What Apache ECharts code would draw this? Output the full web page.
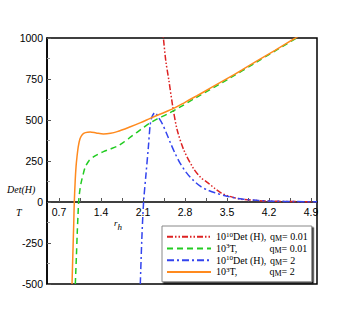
<!DOCTYPE html>
<html>
<head>
<meta charset="utf-8">
<script src="https://cdn.jsdelivr.net/npm/echarts@6/dist/echarts.min.js"></script>
<style>
  html, body { margin: 0; padding: 0; background: #fff; }
  #chart { width: 360px; height: 320px; }
</style>
</head>
<body>
<div id="chart"></div>
<script>
// x ticks (r_h) and y ticks
const xLabels = [0.7, 1.4, 2.1, 2.8, 3.5, 4.2, 4.9]
const xMinorTicks = [1.05, 1.75, 2.45, 3.15, 3.85, 4.55]

// 10^10 Det(H), q_M = 0.01
const redR = [2.42, 2.44, 2.48, 2.53, 2.6, 2.67, 2.78, 2.94, 3.06, 3.17, 3.3, 3.4, 3.5, 3.72, 4.0, 4.17, 4.5, 5.0]
const redV = [1080, 1000, 860, 744, 573, 439, 317, 205, 150, 120, 82, 56, 40, 18, 9, 6, 3, 1]

// 10^3 T, q_M = 0.01
const greenR = [0.972, 0.99, 1.005, 1.018, 1.027, 1.04, 1.055, 1.07, 1.1, 1.14, 1.2, 1.28, 1.36, 1.44, 1.55, 1.67, 1.78, 1.89, 2.0, 2.1, 2.2, 2.33, 2.5, 2.7, 3.0, 3.5, 4.0, 4.66, 5.0]
const greenV = [-500, -330, -180, -70, 0, 50, 90, 120, 165, 215, 252, 276, 293, 307, 322, 340, 365, 395, 425, 452, 478, 505, 535, 575, 640, 745, 855, 1000, 1075]

// 10^10 Det(H), q_M = 2
const blueR = [2.055, 2.08, 2.11, 2.15, 2.19, 2.22, 2.25, 2.3, 2.35, 2.42, 2.5, 2.56, 2.64, 2.72, 2.83, 2.94, 3.06, 3.17, 3.3, 3.5, 3.75, 4.0, 4.3, 4.6, 5.0]
const blueV = [-500, -230, 0, 170, 337, 470, 520, 545, 520, 478, 412, 358, 292, 236, 176, 132, 95, 74, 56, 35, 18, 10, 5, 3, 1]

// 10^3 T, q_M = 2
const orangeR = [0.917, 0.93, 0.945, 0.955, 0.97, 0.985, 1.0, 1.02, 1.05, 1.09, 1.14, 1.22, 1.32, 1.44, 1.56, 1.67, 1.89, 2.06, 2.22, 2.4, 2.61, 2.8, 3.0, 3.25, 3.5, 3.75, 4.0, 4.3, 4.64, 5.0]
const orangeV = [-500, -330, -140, 0, 130, 220, 276, 335, 385, 412, 423, 427, 421, 415, 419, 429, 459, 484, 510, 538, 571, 608, 648, 700, 752, 805, 860, 925, 1000, 1080]

const seriesNames = ['redDet', 'greenT', 'blueDet', 'orangeT']
const legendTexts = [
  '{n|10}{s|10}{a|Det (H), }{q|q}{m|M}{n|= 0.01}',
  '{n|10}{s|3}{b|T,}{q|q}{m|M}{n|= 0.01}',
  '{n|10}{s|10}{a|Det (H), }{q|q}{m|M}{n|= 2}',
  '{n|10}{s|3}{b|T,}{q|q}{m|M}{n|= 2}'
]

const zip = (xs, ys) => xs.map((x, i) => [x, ys[i]])

const serif = '"Liberation Serif", "DejaVu Serif", serif'
const sans = '"Liberation Sans", Arial, sans-serif'

// y = 0 sits 82px above the grid bottom (246px for 1500 units)
const zeroOffset = -82

function lineSeries(name, xs, ys, color, type) {
  return {
    name,
    type: 'line',
    data: zip(xs, ys),
    showSymbol: false,
    symbol: 'none',
    smooth: 0.3,
    clip: true,
    lineStyle: { color, width: 1.5, type },
    itemStyle: { color }
  }
}

const chart = echarts.init(document.getElementById('chart'), null, { renderer: 'svg' })

chart.setOption({
  animation: false,
  backgroundColor: '#fff',
  grid: {
    left: 47, right: 43, top: 38, bottom: 36,
    show: true, borderColor: '#000', borderWidth: 1.5
  },
  xAxis: {
    type: 'value',
    min: 0.5,
    max: 5.0,
    offset: zeroOffset,
    axisLine: { onZero: false, lineStyle: { color: '#000', width: 1.5 } },
    axisTick: {
      inside: true, length: 4,
      customValues: xLabels.concat(xMinorTicks),
      lineStyle: { color: '#555' }
    },
    axisLabel: {
      customValues: xLabels,
      color: '#000', fontFamily: sans, fontSize: 10.5, margin: 4,
      formatter: (v) => v.toFixed(1)
    },
    splitLine: { show: false }
  },
  yAxis: {
    type: 'value',
    min: -500,
    max: 1000,
    interval: 250,
    axisLine: { show: true, onZero: false, lineStyle: { color: '#000', width: 1.5 } },
    axisTick: { inside: true, length: 4, lineStyle: { color: '#555' } },
    minorTick: { show: true, splitNumber: 2, length: 3, lineStyle: { color: '#999' } },
    axisLabel: {
      color: '#000', fontFamily: sans, fontSize: 10.5, margin: 4,
      formatter: (v) => String(v)
    },
    splitLine: { show: false }
  },
  legend: {
    orient: 'vertical',
    left: 162,
    top: 226,
    data: seriesNames,
    itemWidth: 44,
    itemHeight: 8,
    itemGap: 0,
    padding: [5, 4, 4, 4],
    backgroundColor: '#fff',
    borderColor: '#888',
    borderWidth: 1,
    shadowColor: '#000',
    shadowOffsetX: 1.5,
    shadowOffsetY: 1.5,
    itemStyle: { opacity: 0 },
    formatter: (name) => legendTexts[seriesNames.indexOf(name)],
    textStyle: {
      color: '#000',
      fontFamily: serif,
      fontSize: 10,
      lineHeight: 11.7,
      rich: {
        n: { fontFamily: serif, fontSize: 10, lineHeight: 11.7 },
        s: { fontFamily: serif, fontSize: 7, lineHeight: 7, verticalAlign: 'top' },
        a: { fontFamily: serif, fontSize: 10, lineHeight: 11.7, width: 37 },
        b: { fontFamily: serif, fontSize: 10, lineHeight: 11.7, width: 40 },
        q: { fontFamily: serif, fontSize: 10, lineHeight: 11.7 },
        m: { fontFamily: serif, fontSize: 8, lineHeight: 8, verticalAlign: 'bottom' }
      }
    }
  },
  graphic: [
    {
      type: 'text', left: 7, top: 184,
      style: { text: 'Det(H)', font: 'italic 10px ' + serif, fill: '#000' }
    },
    {
      type: 'text', left: 16, top: 207,
      style: { text: 'T', font: 'italic 10px ' + serif, fill: '#000' }
    },
    {
      type: 'text', left: 114, top: 218,
      style: {
        text: '{r|r}{h|h}',
        rich: {
          r: { fontFamily: serif, fontStyle: 'italic', fontSize: 9, lineHeight: 13, verticalAlign: 'top', fill: '#000' },
          h: { fontFamily: serif, fontStyle: 'italic', fontSize: 9, lineHeight: 9, verticalAlign: 'bottom', fill: '#000' }
        }
      }
    }
  ],
  series: [
    lineSeries('redDet', redR, redV, '#dd2222', [6, 2, 1.5, 2, 1.5, 2]),
    lineSeries('greenT', greenR, greenV, '#22cc22', [6, 4]),
    lineSeries('blueDet', blueR, blueV, '#3344ee', [7, 3, 2, 3]),
    lineSeries('orangeT', orangeR, orangeV, '#ff8a1e', 'solid')
  ]
})
</script>
</body>
</html>
